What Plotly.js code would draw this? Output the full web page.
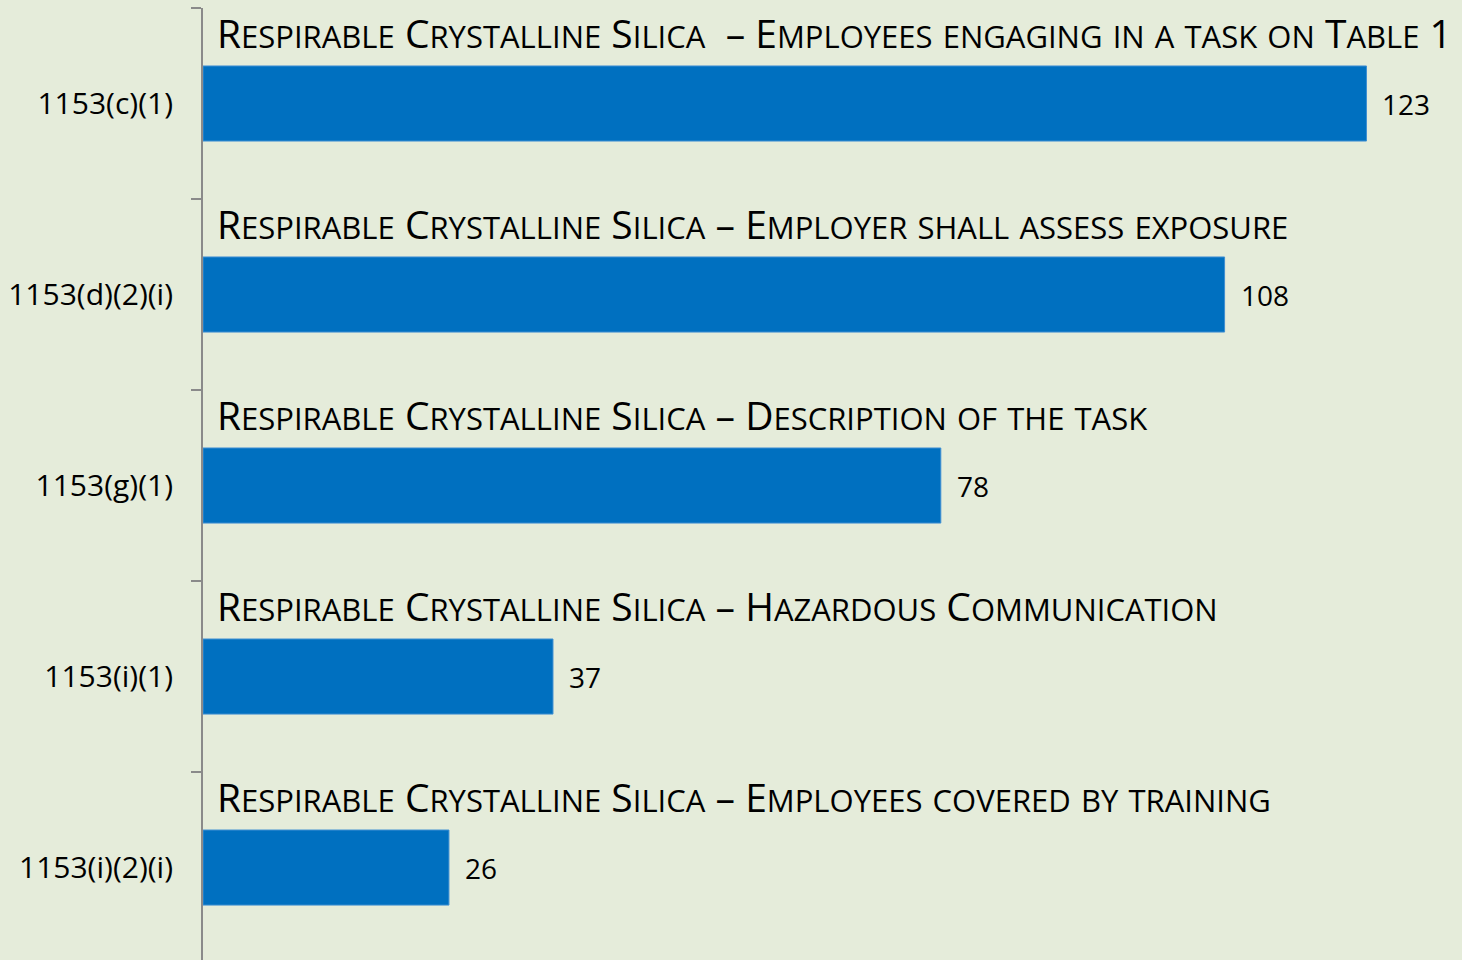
<!DOCTYPE html>
<html>
<head>
<meta charset="utf-8">
<script src="https://cdn.plot.ly/plotly-3.0.1.min.js"></script>
<style>
  html, body { margin: 0; padding: 0; background: #e5ecda; }
  #chart { width: 1462px; height: 960px; }
</style>
</head>
<body>
<div id="chart"></div>
<script>
const secciones = ["1153(c)(1)", "1153(d)(2)(i)", "1153(g)(1)", "1153(i)(1)", "1153(i)(2)(i)"];
const citas = [123, 108, 78, 37, 26];
const titulos = [
  "Respirable Crystalline Silica  – Employees engaging in a task on Table 1",
  "Respirable Crystalline Silica – Employer shall assess exposure",
  "Respirable Crystalline Silica – Description of the task",
  "Respirable Crystalline Silica – Hazardous Communication",
  "Respirable Crystalline Silica – Employees covered by training",
];

const FONT = "'Open Sans', Lato, sans-serif";
const GRANDE = 39, CHICA = 31;

// convierte texto normal a versalitas con spans de distinto tamaño
function versalitas(txt) {
  let out = "", run = "", size = null;
  const flush = () => {
    if (run) out += `<span style="font-size:${size}px">${run}</span>`;
    run = "";
  };
  for (const ch of txt) {
    const s = (ch >= "a" && ch <= "z") ? CHICA : GRANDE;
    if (s !== size) { flush(); size = s; }
    run += ch.toUpperCase();
  }
  flush();
  return out;
}

const anotaciones = [];
titulos.forEach((t, i) => {
  anotaciones.push({
    x: 0, y: secciones[i], xref: "x", yref: "y",
    text: versalitas(t), showarrow: false,
    xanchor: "left", yanchor: "bottom", xshift: 12, yshift: 43,
    font: { family: FONT, size: GRANDE, color: "#000" },
  });
  anotaciones.push({
    x: citas[i], y: secciones[i], xref: "x", yref: "y",
    text: String(citas[i]), showarrow: false,
    xanchor: "left", yanchor: "middle", xshift: 14,
    font: { family: FONT, size: 28, color: "#000" },
  });
});

Plotly.newPlot("chart", [{
  type: "bar",
  orientation: "h",
  x: citas,
  y: secciones,
  width: 0.393,
  marker: { color: "#0070c0", line: { color: "#3f8fd2", width: 1 } },
  hoverinfo: "skip",
}], {
  width: 1462, height: 960,
  paper_bgcolor: "#e5ecda", plot_bgcolor: "#e5ecda",
  margin: { l: 203, r: 0, t: 8, b: 0 },
  showlegend: false,
  font: { family: FONT, color: "#000" },
  xaxis: { range: [0, 133.1], visible: false, fixedrange: true },
  yaxis: {
    // la ultima categoria queda un poco cortada por el borde inferior
    range: [4.484, -0.5],
    showline: true, linecolor: "#8a8a8a", linewidth: 2,
    ticks: "outside", tickson: "boundaries", ticklen: 10, tickwidth: 2, tickcolor: "#8a8a8a",
    tickfont: { family: FONT, size: 30, color: "#000" },
    ticklabelstandoff: 22,
    showgrid: false, zeroline: false, fixedrange: true,
  },
  annotations: anotaciones,
}, { displayModeBar: false, staticPlot: true });
</script>
</body>
</html>
